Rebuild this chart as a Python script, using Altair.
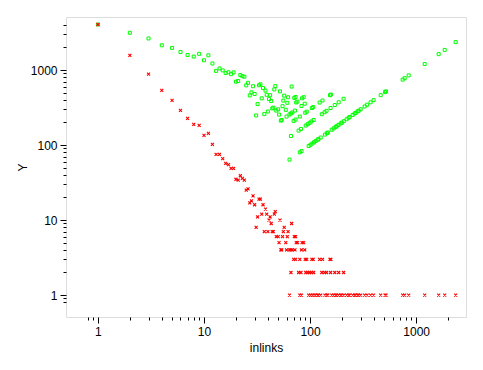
import altair as alt
import pandas as pd

# in-degree (x), number of pages with that in-degree (red), and x * count (green)
inlinks = [1, 2, 3, 4, 5, 6, 7, 8, 9, 10, 11, 12, 13, 14, 15, 16, 17, 18, 19, 20,
           21, 22, 23, 24, 25, 26, 27, 28, 29, 30, 31, 32, 33, 34, 35, 36, 37, 38, 39, 40,
           41, 42, 43, 44, 45, 46, 47, 48, 50, 51, 52, 53, 54, 55, 56, 57, 59, 60, 61, 62,
           64, 66, 67, 68, 71, 72, 73, 74, 76, 83, 84, 87, 89,
           70, 73, 80, 90, 93, 104, 107, 123, 131, 154, 157,
           66, 78, 82, 91, 95, 99, 103, 108, 129, 137, 143, 156, 171, 186, 207,
           64, 80, 83, 97, 101, 105, 109, 113, 118, 120, 126, 138, 144, 147, 160, 167, 174,
           178, 185, 194, 199, 208, 221, 231, 236, 252, 263, 269, 281, 287, 300, 327, 345,
           372, 397, 463, 509, 520, 746, 779, 850, 1203, 1630, 1857, 2356]

count = [4050, 1570, 880, 535, 395, 290, 227, 189, 183, 135, 143, 102, 75, 75, 66, 57, 55, 49, 49, 35,
         34, 39, 36, 34, 25, 26, 17, 18, 21, 16, 8, 11, 19, 19, 12, 16, 7, 14, 12, 7,
         10, 11, 9, 7, 7, 12, 13, 6, 6, 5, 10, 4, 4, 6, 7, 8, 5, 4, 6, 7,
         4, 4, 9, 4, 6, 4, 6, 5, 5, 4, 5, 5, 4,
         3, 3, 3, 3, 3, 3, 3, 3, 3, 3, 3,
         2, 2, 2, 2, 2, 2, 2, 2, 2, 2, 2, 2, 2, 2, 2,
         1, 1, 1, 1, 1, 1, 1, 1, 1, 1, 1, 1, 1, 1, 1, 1, 1,
         1, 1, 1, 1, 1, 1, 1, 1, 1, 1, 1, 1, 1, 1, 1, 1,
         1, 1, 1, 1, 1, 1, 1, 1, 1, 1, 1, 1]

total = [4050, 3140, 2640, 2140, 1975, 1740, 1589, 1512, 1647, 1350, 1573, 1224, 975, 1050, 990, 912, 935, 882, 931, 700,
         714, 858, 828, 816, 625, 676, 459, 504, 609, 480, 248, 352, 627, 646, 420, 576, 259, 532, 468, 280,
         410, 462, 387, 308, 315, 552, 611, 288, 300, 255, 520, 212, 216, 330, 392, 456, 295, 240, 366, 434,
         256, 264, 603, 272, 426, 288, 438, 370, 380, 332, 420, 435, 356,
         210, 219, 240, 270, 279, 312, 321, 369, 393, 462, 471,
         132, 156, 164, 182, 190, 198, 206, 216, 258, 274, 286, 312, 342, 372, 414,
         64, 80, 83, 97, 101, 105, 109, 113, 118, 120, 126, 138, 144, 147, 160, 167, 174,
         178, 185, 194, 199, 208, 221, 231, 236, 252, 263, 269, 281, 287, 300, 327, 345,
         372, 397, 463, 509, 520, 746, 779, 850, 1203, 1630, 1857, 2356]

x_ticks = [0.8, 0.9, 1, 2, 3, 4, 5, 6, 7, 8, 9, 10, 20, 30, 40, 50, 60, 70, 80, 90,
           100, 200, 300, 400, 500, 600, 700, 800, 900, 1000, 2000]
y_ticks = [0.8, 0.9, 1, 2, 3, 4, 5, 6, 7, 8, 9, 10, 20, 30, 40, 50, 60, 70, 80, 90,
           100, 200, 300, 400, 500, 600, 700, 800, 900, 1000, 2000, 3000, 4000]

df = pd.DataFrame({"inlinks": inlinks, "count": count, "total": total})

major = "indexof([1, 10, 100, 1000], datum.value) >= 0"
FONT = "Liberation Sans"

def make_axis(title, values, title_pad):
    return alt.Axis(
        title=title, values=values,
        labelExpr=f"{major} ? '' + datum.value : ''",
        tickSize={"condition": {"test": major, "value": 6}, "value": 3},
        grid=False, domain=False, labelOverlap=False, labelFlush=False, labelBound=False,
        tickColor="black", labelColor="black", titleColor="black",
        labelFont=FONT, titleFont=FONT, labelFontSize=12, titleFontSize=12,
        titleFontWeight="normal", labelPadding=3, titlePadding=title_pad,
    )

xs = alt.Scale(type="log", domain=[0.5, 2950], nice=False)
ys = alt.Scale(type="log", domain=[0.51, 5100], nice=False)

base = alt.Chart(df)
green = base.mark_point(shape="square", filled=False, color="#00ff00", size=9,
                        strokeWidth=1, opacity=1).encode(
    x=alt.X("inlinks:Q", scale=xs, axis=make_axis("inlinks", x_ticks, 5)),
    y=alt.Y("total:Q", scale=ys, axis=make_axis("Y", y_ticks, 1)),
)
red = base.mark_point(shape="M-1,-1L1,1M-1,1L1,-1", filled=False, color="#ff0000", size=9,
                      strokeWidth=1.1, opacity=1).encode(
    x=alt.X("inlinks:Q", scale=xs),
    y=alt.Y("count:Q", scale=ys),
)

chart = alt.layer(green, red).properties(
    width=400, height=300,
    autosize=alt.AutoSizeParams(type="none"),
    padding={"left": 58, "top": 9, "right": 5, "bottom": 40},
).configure_view(stroke="black", strokeWidth=1).configure(background="white")

chart.save("out.html", embed_options={"renderer": "svg", "actions": False})
